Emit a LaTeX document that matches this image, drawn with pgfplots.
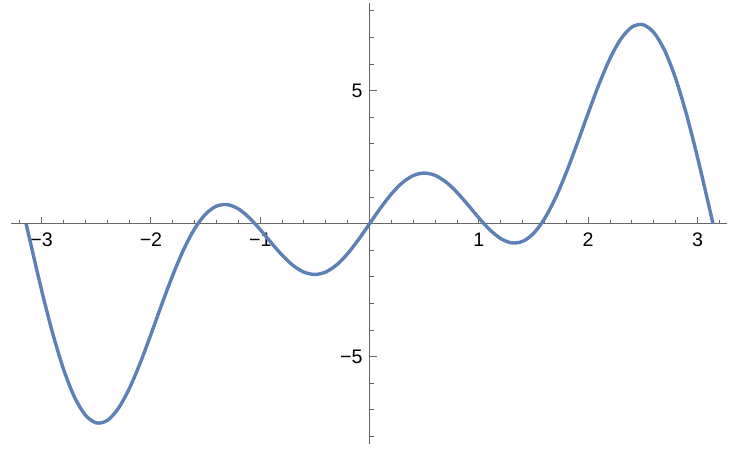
\documentclass[border=0pt]{standalone}
\usepackage{fontspec}
\setmainfont{Liberation Sans}
\usepackage{pgfplots}
\pgfplotsset{compat=1.18}
\definecolor{mmablue}{RGB}{94,129,181}
\definecolor{axgray}{gray}{0.4}
\begin{document}
\begin{tikzpicture}
\useasboundingbox (-5.5pt,-8pt) rectangle (369.5pt,222pt);
\begin{axis}[
scale only axis,
width=358pt, height=220.5pt,
axis lines=middle,
axis line style={-, axgray, line width=0.5pt},
xmin=-3.28, xmax=3.27,
ymin=-8.28, ymax=8.3,
xtick={-3,-2,-1,1,2,3},
xticklabels={−3,−2,−1,1,2,3},
ytick={-5,5},
yticklabels={−5,5},
minor xtick={-3.2,-2.8,-2.6,-2.4,-2.2,-1.8,-1.6,-1.4,-1.2,-0.8,-0.6,-0.4,-0.2,0.2,0.4,0.6,0.8,1.2,1.4,1.6,1.8,2.2,2.4,2.6,2.8,3.2},
minor ytick={-8,-7,-6,-4,-3,-2,-1,1,2,3,4,6,7,8},
tick align=inside,
major tick length=3.5pt,
minor tick length=2pt,
tick style={axgray, line width=0.5pt},
ticklabel style={font=\fontsize{9.8}{11}\selectfont, text=black},
xticklabel style={yshift=-1pt},
clip=false,
]
\addplot[color=mmablue, line width=1.7pt, smooth, tension=0.5] coordinates {
(-3.1416, 0)(-3.1, -0.747)(-3.0, -2.498)(-2.9, -4.100)
(-2.8, -5.463)(-2.7, -6.510)(-2.6, -7.192)(-2.5, -7.486)
(-2.4, -7.396)(-2.3, -6.954)(-2.2, -6.215)(-2.1, -5.255)
(-2.0, -4.160)(-1.9, -3.022)(-1.8, -1.931)(-1.7, -0.964)(-1.6, -0.185)
(-1.5, 0.363)(-1.4, 0.663)(-1.3, 0.719)(-1.2, 0.558)
(-1.1, 0.225)(-1.0, -0.220)(-0.9, -0.711)(-0.8, -1.180)(-0.7, -1.566)
(-0.6, -1.819)(-0.5, -1.906)(-0.4, -1.812)(-0.3, -1.543)(-0.2, -1.122)
(-0.1, -0.590)(0, 0)
(0.1, 0.590)(0.2, 1.122)(0.3, 1.543)(0.4, 1.812)(0.5, 1.906)
(0.6, 1.819)(0.7, 1.566)(0.8, 1.180)(0.9, 0.711)(1.0, 0.220)
(1.1, -0.225)(1.2, -0.558)(1.3, -0.719)(1.4, -0.663)
(1.5, -0.363)(1.6, 0.185)(1.7, 0.964)(1.8, 1.931)(1.9, 3.022)
(2.0, 4.160)(2.1, 5.255)(2.2, 6.215)(2.3, 6.954)(2.4, 7.396)
(2.5, 7.486)(2.6, 7.192)(2.7, 6.510)
(2.8, 5.463)(2.9, 4.100)(3.0, 2.498)(3.1, 0.747)(3.1416, 0)
};
\end{axis}
\end{tikzpicture}
\end{document}
